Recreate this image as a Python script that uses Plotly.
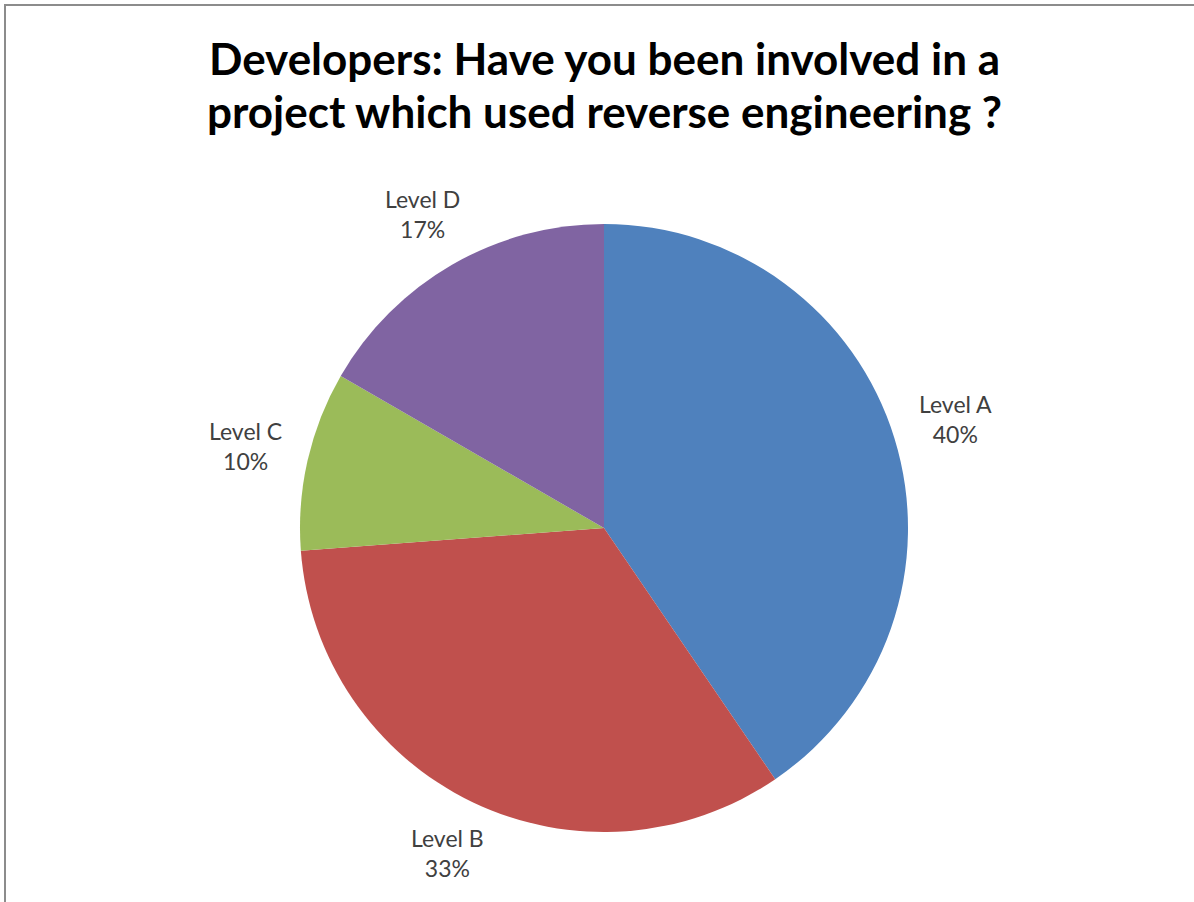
import math
import plotly.graph_objects as go

# Survey responses per level
levels = ["Level A", "Level B", "Level C", "Level D"]
responses = [17, 14, 4, 7]
colors = ["#4F81BD", "#C0504D", "#9BBB59", "#8064A2"]
title_lines = [
    "Developers: Have you been involved in a",
    "project which used reverse engineering ?",
]

W, H = 1194, 902
cx, cy, r = 604, 528, 304

fig = go.Figure(
    go.Pie(
        labels=levels,
        values=responses,
        sort=False,
        direction="clockwise",
        rotation=0,
        marker=dict(colors=colors, line=dict(width=0)),
        textinfo="none",
        domain=dict(x=[(cx - r) / W, (cx + r) / W], y=[1 - (cy + r) / H, 1 - (cy - r) / H]),
        showlegend=False,
        hoverinfo="label+value+percent",
    )
)

# Data labels just outside each slice, centred on the slice's mid-angle
total = sum(responses)
label_font = dict(family="Lato", size=23, color="#404040")
box_w, box_h, gap = 76, 40, 22
annotations = []
start = 0.0
for name, v in zip(levels, responses):
    frac = v / total
    mid = (start + frac / 2) * 2 * math.pi  # clockwise from 12 o'clock
    start += frac
    ux, uy = math.sin(mid), math.cos(mid)
    d = r + gap + abs(ux) * box_w / 2 + abs(uy) * box_h / 2
    px, py = cx + d * ux, cy - d * uy
    annotations.append(
        dict(
            text=f"{name}<br>{round(frac * 100)}%",
            x=px / W,
            y=1 - py / H,
            xref="paper",
            yref="paper",
            xanchor="center",
            yanchor="middle",
            align="center",
            showarrow=False,
            font=label_font,
        )
    )

# Two-line bold heading
for i, line in enumerate(title_lines):
    annotations.append(
        dict(
            text=f"<b>{line}</b>",
            x=604 / W,
            y=1 - (30 + 53 * i) / H,
            xref="paper",
            yref="paper",
            xanchor="center",
            yanchor="top",
            showarrow=False,
            font=dict(family="Lato", size=44, color="black"),
        )
    )

fig.update_layout(
    width=W,
    height=H,
    margin=dict(l=0, r=0, t=0, b=0),
    paper_bgcolor="white",
    plot_bgcolor="white",
    annotations=annotations,
    shapes=[
        dict(
            type="rect",
            xref="paper",
            yref="paper",
            x0=5 / W,
            x1=1.05,
            y0=-0.05,
            y1=1 - 5 / H,
            line=dict(color="#8c8c8c", width=2),
        )
    ],
)

fig.write_html("out.html")
